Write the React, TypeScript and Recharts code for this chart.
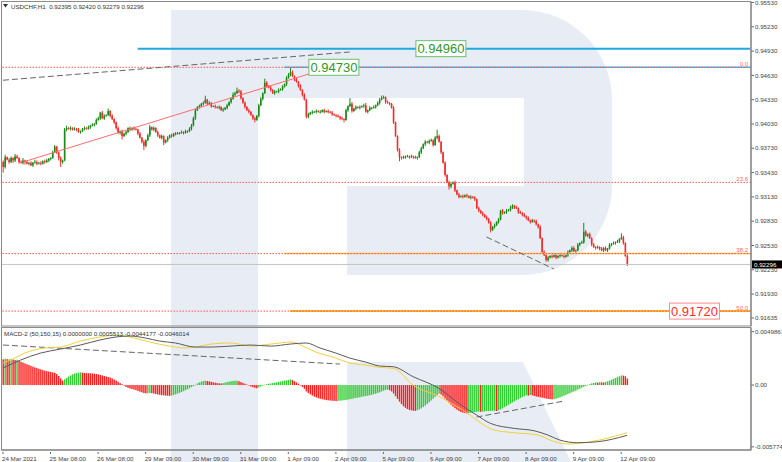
import React from "react";
import {
  Bar,
  ComposedChart,
  Line,
  ReferenceDot,
  ReferenceLine,
  XAxis,
  YAxis,
} from "recharts";

const FONT = "'Liberation Sans', Arial, sans-serif";
const PIP = 0.0001;
const SLOTS = 378;
const BULL = "#178a17";
const BEAR = "#f22b2b";

// hourly closes, USDCHF H1
const firstOpen = 0.9356;
const closes = [
  0.935, 0.9362, 0.9359, 0.9356, 0.9361, 0.9358, 0.9363, 0.9361, 0.9356, 0.9355, 0.9358, 0.9356, 0.9354, 0.9355, 0.9352, 0.9355, 0.9356, 0.9354, 0.9355, 0.9354, 0.9357, 0.9356, 0.9358, 0.936,
  0.9361, 0.9368, 0.9375, 0.9368, 0.9361, 0.9356, 0.9358, 0.9396, 0.9398, 0.9397, 0.9398, 0.9396, 0.9397, 0.9396, 0.9393, 0.9394, 0.9397, 0.9398, 0.9397, 0.9399, 0.9401, 0.9402, 0.9403, 0.9408,
  0.941, 0.9417, 0.941, 0.9413, 0.9414, 0.9419, 0.9413, 0.9409, 0.9405, 0.9398, 0.9392, 0.9394, 0.9388, 0.9391, 0.9393, 0.9398, 0.9396, 0.9398, 0.9397, 0.9396, 0.9391, 0.9386, 0.9381, 0.9376,
  0.9383, 0.9389, 0.9399, 0.9396, 0.9398, 0.9393, 0.9389, 0.9386, 0.9388, 0.938, 0.9383, 0.9386, 0.9389, 0.9388, 0.9391, 0.9391, 0.9392, 0.9392, 0.9393, 0.9392, 0.9394, 0.9394, 0.9397, 0.9401,
  0.941, 0.942, 0.9424, 0.9425, 0.9428, 0.9429, 0.9433, 0.9428, 0.9429, 0.9425, 0.9425, 0.9424, 0.9423, 0.9424, 0.942, 0.9421, 0.9423, 0.9426, 0.943, 0.9434, 0.9439, 0.9441, 0.9444, 0.9443,
  0.9435, 0.9429, 0.9424, 0.942, 0.9418, 0.9414, 0.941, 0.9408, 0.9413, 0.9426, 0.9434, 0.9441, 0.9454, 0.945, 0.9448, 0.9445, 0.9441, 0.9443, 0.9443, 0.9445, 0.9446, 0.9449, 0.9452, 0.946,
  0.9464, 0.9467, 0.9462, 0.9458, 0.9455, 0.945, 0.9445, 0.9439, 0.9433, 0.9412, 0.9415, 0.9417, 0.9418, 0.9418, 0.9419, 0.9418, 0.9418, 0.942, 0.9418, 0.9419, 0.9418, 0.9417, 0.9415, 0.9414,
  0.9413, 0.9412, 0.941, 0.9409, 0.9408, 0.942, 0.9425, 0.9428, 0.9419, 0.9422, 0.9424, 0.9423, 0.9424, 0.9425, 0.9426, 0.9418, 0.942, 0.9423, 0.9423, 0.9424, 0.9426, 0.9429, 0.9433, 0.9435,
  0.9436, 0.943, 0.9429, 0.9428, 0.9423, 0.9405, 0.9388, 0.9371, 0.9362, 0.9361, 0.9362, 0.9363, 0.9363, 0.9362, 0.9363, 0.9362, 0.9361, 0.9362, 0.9368, 0.9373, 0.9378, 0.9381, 0.938, 0.9382,
  0.9383, 0.9377, 0.9386, 0.9388, 0.9381, 0.9368, 0.9355, 0.934, 0.9331, 0.9326, 0.9329, 0.9331, 0.9321, 0.9316, 0.9313, 0.9314, 0.9313, 0.9315, 0.9314, 0.9312, 0.9313, 0.9312, 0.931, 0.9299,
  0.9296, 0.9293, 0.9291, 0.9288, 0.9286, 0.9281, 0.9272, 0.9276, 0.9278, 0.9282, 0.9285, 0.9296, 0.9293, 0.9294, 0.9296, 0.9297, 0.9299, 0.9302, 0.93, 0.9299, 0.9294, 0.9293, 0.9291, 0.9289,
  0.9287, 0.9284, 0.9282, 0.9284, 0.9283, 0.9279, 0.9276, 0.9262, 0.9245, 0.9241, 0.9235, 0.9238, 0.924, 0.9239, 0.9241, 0.9238, 0.924, 0.9241, 0.924, 0.9239, 0.9241, 0.9245, 0.9247, 0.925,
  0.9246, 0.9247, 0.9254, 0.9256, 0.9257, 0.927, 0.9265, 0.9267, 0.9262, 0.9254, 0.9251, 0.925, 0.9251, 0.9249, 0.9247, 0.925, 0.9247, 0.9249, 0.9254, 0.9255, 0.9256, 0.9257, 0.9258, 0.9261, 0.9263, 0.9256, 0.924, 0.92296,
];

// wick lengths in pips above / below the body
const wickUp = [
  2, 3, 1, 2, 2, 1, 3, 2, 1, 2, 3, 1, 2, 1, 2, 1, 3, 2, 1, 2, 1, 2, 2, 1,
  1, 2, 2, 1, 1, 2, 1, 2, 3, 1, 2, 1, 2, 1, 2, 1, 1, 2, 1, 2, 1, 2, 1, 2,
  2, 1, 2, 2, 1, 3, 1, 2, 1, 1, 2, 1, 2, 1, 2, 1, 2, 1, 2, 1, 1, 2, 1, 2,
  1, 2, 3, 1, 2, 1, 2, 1, 2, 1, 1, 2, 1, 2, 1, 2, 1, 1, 2, 1, 2, 1, 2, 2,
  2, 2, 1, 2, 1, 2, 5, 1, 2, 1, 1, 2, 1, 2, 1, 2, 1, 2, 1, 2, 3, 2, 4, 2,
  2, 1, 2, 1, 2, 1, 1, 2, 1, 2, 2, 1, 5, 2, 1, 2, 1, 2, 1, 2, 1, 2, 1, 2,
  2, 6, 2, 1, 2, 1, 2, 1, 2, 1, 2, 1, 2, 1, 2, 1, 2, 1, 2, 1, 2, 1, 2, 1,
  1, 2, 1, 2, 1, 2, 1, 7, 2, 1, 2, 1, 2, 1, 2, 3, 1, 2, 1, 2, 1, 2, 2, 3,
  2, 1, 2, 1, 1, 2, 1, 1, 2, 1, 2, 1, 2, 1, 2, 1, 2, 1, 2, 2, 1, 2, 1, 2,
  2, 1, 2, 8, 2, 1, 1, 2, 1, 2, 2, 1, 2, 1, 2, 1, 2, 1, 2, 1, 2, 1, 2, 1,
  2, 1, 2, 1, 2, 1, 2, 1, 2, 1, 2, 1, 2, 1, 2, 1, 3, 2, 1, 2, 1, 2, 1, 2,
  1, 2, 1, 2, 1, 2, 1, 2, 1, 2, 1, 2, 1, 2, 1, 2, 1, 2, 1, 2, 1, 2, 1, 2,
  2, 1, 2, 1, 2, 11, 2, 1, 2, 1, 2, 1, 2, 1, 2, 1, 2, 1, 2, 1, 2, 1, 2, 1, 5, 2, 1, 2,
];
const wickDown = [
  7, 2, 1, 2, 1, 3, 2, 1, 2, 1, 2, 3, 1, 2, 1, 2, 1, 2, 1, 2, 1, 2, 1, 2,
  2, 1, 1, 2, 3, 6, 2, 1, 2, 1, 2, 1, 1, 2, 1, 2, 1, 2, 1, 1, 2, 1, 2, 1,
  1, 2, 1, 2, 1, 1, 2, 1, 2, 2, 1, 2, 4, 1, 2, 1, 2, 1, 2, 1, 2, 1, 2, 5,
  2, 1, 2, 1, 2, 1, 2, 1, 2, 3, 1, 2, 1, 2, 1, 2, 1, 2, 1, 2, 1, 2, 1, 2,
  1, 2, 1, 2, 1, 2, 1, 2, 1, 2, 1, 2, 1, 2, 1, 2, 1, 2, 1, 2, 1, 2, 1, 2,
  2, 1, 2, 1, 2, 1, 2, 3, 1, 2, 1, 2, 1, 2, 1, 2, 1, 2, 1, 2, 1, 2, 1, 2,
  1, 2, 1, 2, 1, 2, 1, 2, 1, 2, 2, 1, 2, 1, 2, 1, 2, 1, 2, 1, 2, 1, 2, 1,
  2, 1, 2, 1, 3, 1, 2, 1, 2, 1, 2, 1, 2, 1, 2, 1, 2, 1, 2, 1, 2, 1, 2, 1,
  1, 2, 1, 2, 1, 2, 1, 2, 5, 2, 1, 2, 1, 2, 1, 2, 1, 2, 1, 2, 1, 2, 1, 2,
  1, 2, 1, 2, 1, 2, 1, 2, 1, 4, 2, 1, 2, 1, 2, 1, 2, 1, 2, 1, 2, 1, 2, 1,
  2, 1, 2, 1, 2, 1, 3, 1, 2, 1, 2, 1, 2, 1, 2, 1, 2, 1, 2, 1, 2, 1, 2, 1,
  2, 1, 2, 1, 2, 1, 2, 1, 2, 1, 2, 2, 1, 2, 1, 2, 1, 2, 1, 2, 1, 2, 1, 2,
  1, 2, 1, 2, 1, 2, 1, 2, 1, 2, 1, 2, 1, 2, 1, 2, 1, 2, 1, 2, 1, 2, 1, 2, 1, 2, 1, 2,
];

// MACD-2 histogram, in units of 0.0001
const histogram = [
  24, 24.6, 24.2, 23.8, 24.3, 23.9, 23.4, 23.6, 22.5, 21.8, 21, 20.2, 19.4, 18.8, 18, 17.2, 16.5, 15.9, 15.2, 14.6, 14, 13.5, 13, 12.6,
  12.2, 11.8, 11.5, 10.2, 8.4, 6.2, 4.2, 5.3, 6.6, 8, 9, 10, 10.8, 11.3, 11.6, 11.8, 11.5, 11.3, 11.1, 11.0, 10.9, 10.8, 10.6, 10.3,
  10, 9.5, 9, 8.5, 8, 7.5, 7, 6.2, 5.2, 4.2, 3, 1.8, 0.8, -0.5, -1.8, -2.6, -3.2, -3.7, -4.2, -4.8, -5.5, -6.2, -6.8, -7.5,
  -7.8, -7.7, -7.4, -7.6, -8, -8.4, -8.8, -9.1, -9.4, -9.7, -9.9, -10, -10.1, -9.8, -9.3, -8.7, -8, -7.3, -6.5, -5.7, -4.8, -3.9, -3, -2,
  -1, 0.2, 1.5, 2.5, 3.2, 3.7, 4, 3.8, 3.4, 3, 2.6, 2.2, 1.9, 1.6, 1.5, 1.8, 2.3, 2.8, 3.2, 3.5, 3.8, 4, 4.1, 3.6,
  2.8, 2, 1.2, 0.4, -0.5, -1.3, -2, -2.6, -3, -2.2, -1.4, -0.6, 0.3, 0.8, 1.2, 1.5, 1.8, 2.1, 2.5, 2.9, 3.3, 3.7, 4.1, 4.5,
  4.8, 5.2, 4.6, 3.6, 2.5, 1.2, -0.3, -1.8, -3.5, -6, -7.5, -8.7, -9.8, -10.8, -11.6, -12.3, -12.8, -13.3, -13.7, -14, -14.3, -14.5, -14.7, -14.8,
  -15, -14.8, -14.6, -14.4, -14.2, -13.9, -13.6, -13.2, -12.9, -12.5, -12.1, -11.8, -11.4, -11, -10.6, -10.3, -9.9, -9.5, -9.1, -8.6, -8.1, -7.5, -6.8, -6,
  -5.2, -4.6, -4.2, -4.8, -6, -8, -10.5, -13, -15.5, -17.8, -19.8, -21.3, -22.4, -23.2, -23.7, -24, -24.1, -23.6, -22.8, -21.8, -20.6, -19.3, -17.8, -16.2,
  -14.5, -12.8, -11, -9.3, -8, -8.8, -10.5, -12.5, -14.5, -16.5, -18.3, -20, -21.6, -23, -24.2, -25.2, -25.8, -26.2, -26.4, -26.1, -25.8, -25.5, -25.3, -25.1,
  -24.9, -25.1, -24.8, -24.6, -24.4, -24.3, -24.2, -24.1, -24, -24.3, -23.6, -22.8, -21.8, -20.7, -19.6, -18.5, -17.4, -16.3, -15.2, -14.2, -13.2, -12.2, -11.3, -10.4,
  -9.6, -9.8, -9.3, -9.6, -10.2, -10.7, -11.1, -11.5, -11.9, -12.3, -12.7, -13, -13.2, -13.4, -13.2, -12.8, -12.2, -11.5, -10.8, -10, -9.2, -8.4, -7.6, -6.8,
  -6, -5.2, -4.3, -3.4, -2.5, -1.6, -0.8, 0, 0.8, 1.5, 2, 2.4, 2.3, 2.7, 2.5, 2.4, 2.9, 3.5, 4.2, 5, 5.8, 6.6, 7.4, 8.2, 9, 8.8, 8.2, 6,
];

// MACD lines (0.0001 units), read at the listed bars
const macdBars = [0, 9, 19, 29, 39, 49, 57, 64, 72, 79, 87, 97, 105, 115, 125, 135, 145, 153, 160, 168, 175, 183, 190, 197, 207, 220, 230, 239, 246, 258, 268, 275, 281, 290, 300, 315];
const macdValues = [15.9, 23.4, 29.9, 33.6, 37.4, 42.1, 44.9, 45.8, 43.9, 41.1, 39.3, 35.5, 35.5, 36.4, 37.4, 36.4, 38.3, 39.3, 34.6, 29.9, 25.2, 21.5, 17.8, 17.1, 7.8, -3.1, -17.1, -28, -35.8, -40.5, -42.7, -46.7, -51.4, -53.9, -53, -47];
const signalBars = [0, 4, 11, 21, 29, 39, 49, 57, 64, 74, 84, 92, 97, 105, 115, 125, 135, 146, 150, 158, 168, 175, 183, 190, 197, 207, 221, 232, 248, 258, 270, 276, 285, 291, 301, 315];
const signalValues = [20.6, 23.4, 29.9, 34.6, 35.5, 41.1, 44.9, 46.7, 44.9, 40.2, 36.4, 34.6, 35.5, 38.3, 39.3, 36.4, 38.3, 40.2, 37.4, 30.8, 25.2, 20.6, 18.7, 16.5, 15.6, 0, -11.5, -23.4, -42.1, -44.6, -46.7, -51.4, -55.1, -54.5, -51.4, -44.5];

const dayTicks = [0, 24, 48, 72, 96, 120, 144, 168, 192, 216, 240, 264, 288, 312];
const dayLabels = [
  "24 Mar 2021", "25 Mar 08:00", "26 Mar 08:00", "29 Mar 09:00", "30 Mar 09:00", "31 Mar 09:00", "1 Apr 09:00",
  "2 Apr 09:00", "5 Apr 09:00", "6 Apr 09:00", "7 Apr 09:00", "8 Apr 09:00", "9 Apr 09:00", "12 Apr 09:00",
];
const priceTicks = [0.9553, 0.9523, 0.9493, 0.9463, 0.9433, 0.9403, 0.9373, 0.9343, 0.9313, 0.9283, 0.9253, 0.9223, 0.9193, 0.91635];
const macdTicks = [0.0049861, 0, -0.005774];
const macdTickLabels = ["0.0049861", "0.00", "-0.005774"];

const lastPrice = 0.92296;
const resistance = 0.9496;
const swingHigh = 0.9473;
const target = 0.9172;
const fibNames = ["0.0", "23.6", "38.2", "50.0"];
const fibPrices = [0.9473, 0.93309, 0.9243, 0.9172];

const rows = Array.from({ length: SLOTS }, (_, i) => {
  const row: any = { i };
  if (i < closes.length) {
    const o = i === 0 ? firstOpen : closes[i - 1];
    const c = closes[i];
    row.o = o;
    row.c = c;
    row.h = Math.max(o, c) + (wickUp[i] ?? 1) * PIP;
    row.l = Math.min(o, c) - (wickDown[i] ?? 1) * PIP;
    row.range = [row.l, row.h];
    row.hist = (histogram[i] ?? 0) * PIP;
    row.histUp = i > 0 && histogram[i] > histogram[i - 1];
  }
  return row;
});
macdBars.forEach((b, k) => (rows[b].macd = macdValues[k] * PIP));
signalBars.forEach((b, k) => (rows[b].signal = signalValues[k] * PIP));

const Candle = (props: any) => {
  const { x, y, width, height, payload } = props;
  if (!payload || payload.c === undefined) return null;
  const top = Math.min(y, y + height);
  const span = Math.abs(height);
  const yOf = (p: number) => top + ((payload.h - p) / (payload.h - payload.l)) * span;
  const cx = x + width / 2;
  const color = payload.c >= payload.o ? BULL : BEAR;
  const bTop = yOf(Math.max(payload.o, payload.c));
  const bBot = yOf(Math.min(payload.o, payload.c));
  return (
    <g>
      <line x1={cx} x2={cx} y1={top} y2={top + span} stroke={color} strokeWidth={1} />
      <rect x={cx - 0.8} y={bTop} width={1.6} height={Math.max(bBot - bTop, 0.8)} fill={color} />
    </g>
  );
};

const HistBar = (props: any) => {
  const { x, y, width, height, payload } = props;
  if (!payload || payload.hist === undefined) return null;
  const top = Math.min(y, y + height);
  return (
    <rect
      x={x + width / 2 - 0.7}
      y={top}
      width={1.4}
      height={Math.max(Math.abs(height), 0.5)}
      fill={payload.histUp ? "#33cc33" : "#ff1c1c"}
    />
  );
};

const PriceTick = ({ x, y, payload }: any) => (
  <text x={x + 1} y={y} dy="0.35em" fontSize={6.2} fontFamily={FONT} fill="#444">
    {payload.value.toFixed(5)}
  </text>
);

const MacdTick = ({ x, y, payload }: any) => (
  <text x={x + 1} y={y} dy="0.35em" fontSize={6.2} fontFamily={FONT} fill="#444">
    {macdTickLabels[macdTicks.indexOf(payload.value)]}
  </text>
);

const DayTick = ({ x, y, payload }: any) => (
  <g>
    <line x1={x} x2={x} y1={y} y2={y + 2} stroke="#666" />
    <text x={x - 1} y={y + 8.5} fontSize={6.2} fontFamily={FONT} fill="#444">
      {dayLabels[dayTicks.indexOf(payload.value)]}
    </text>
  </g>
);

const tag = (text: string, color: string, border: string) => (p: any) => (
  <g>
    <rect x={p.cx - 25} y={p.cy - 8} width={50} height={16} fill="#fff" stroke={border} strokeWidth={1} />
    <text x={p.cx} y={p.cy} dy="0.36em" textAnchor="middle" fontSize={13} fontFamily={FONT} fill={color}>
      {text}
    </text>
  </g>
);

const fibText = (text: string) => (p: any) => (
  <text x={p.cx - 2} y={p.cy - 1.5} textAnchor="end" fontSize={6} fontFamily={FONT} fill="#ff6a6a">
    {text}
  </text>
);

const lastTag = (p: any) => (
  <g>
    <rect x={p.cx + 2} y={p.cy - 4} width={30} height={8} fill="#000" />
    <text x={p.cx + 4} y={p.cy} dy="0.35em" fontSize={6.2} fontFamily={FONT} fill="#fff">
      {lastPrice.toFixed(5)}
    </text>
  </g>
);

export default function App() {
  const last = SLOTS - 1;
  return (
    <div style={{ position: "absolute", left: 0, top: 0, width: 782, height: 462, background: "#fff", overflow: "hidden" }}>
      <svg width={782} height={462} style={{ position: "absolute", left: 0, top: 0 }}>
        <path
          d="M171 10 H522 A90 90 0 0 1 612 100 V185 A90 90 0 0 1 522 275 H347 V186 H524 V98 H258 V462 H171 Z"
          fill="#e8edf5"
        />
        <path d="M347 362 H523 L571 462 H347 Z" fill="#e8edf5" />
      </svg>

      <div style={{ position: "absolute", left: 0, top: 0 }}>
        <ComposedChart width={782} height={326} data={rows} margin={{ top: 2, right: 0, left: 2, bottom: 0 }}>
          <XAxis dataKey="i" hide />
          <YAxis
            orientation="right"
            width={31}
            type="number"
            domain={[0.91536, 0.95536]}
            allowDataOverflow
            ticks={priceTicks}
            interval={0}
            tick={<PriceTick />}
            tickSize={3}
            tickMargin={0}
            axisLine={{ stroke: "#666" }}
            tickLine={{ stroke: "#666" }}
          />
          <ReferenceLine y={lastPrice} stroke="#c4c4c4" />
          <ReferenceLine segment={[{ x: 142, y: fibPrices[2] }, { x: last, y: fibPrices[2] }]} stroke="#ffc24d" strokeWidth={1.5} />
          <ReferenceLine segment={[{ x: 145, y: target }, { x: last, y: target }]} stroke="#ffb52e" strokeWidth={2} />
          <ReferenceLine segment={[{ x: 68, y: resistance }, { x: last, y: resistance }]} stroke="#1ea9e1" strokeWidth={2} />
          <ReferenceLine segment={[{ x: 142, y: swingHigh }, { x: last, y: swingHigh }]} stroke="#49b3e3" strokeWidth={1.5} />
          {fibPrices.map((p) => (
            <ReferenceLine key={p} y={p} stroke="#ff5252" strokeDasharray="1.5 1.5" />
          ))}
          <ReferenceLine segment={[{ x: 0, y: 0.9457 }, { x: 175, y: 0.94919 }]} stroke="#666" strokeDasharray="6 3" />
          <ReferenceLine segment={[{ x: 10, y: 0.9356 }, { x: 156, y: 0.9466 }]} stroke="#ff6b6b" />
          <ReferenceLine segment={[{ x: 244, y: 0.92635 }, { x: 278, y: 0.9224 }]} stroke="#666" strokeDasharray="6 3" />
          <Bar dataKey="range" shape={<Candle />} isAnimationActive={false} />
          {fibPrices.map((p, k) => (
            <ReferenceDot key={"f" + k} x={last} y={p} r={0} shape={fibText(fibNames[k])} />
          ))}
          <ReferenceDot x={221} y={resistance} r={0} shape={tag("0.94960", "#2f962f", "#6cbf6c")} />
          <ReferenceDot x={167} y={swingHigh} r={0} shape={tag("0.94730", "#2f962f", "#6cbf6c")} />
          <ReferenceDot x={349} y={target} r={0} shape={tag("0.91720", "#ff2d2d", "#ff8a8a")} />
          <ReferenceDot x={last} y={lastPrice} r={0} shape={lastTag} />
        </ComposedChart>
      </div>

      <div style={{ position: "absolute", left: 0, top: 326 }}>
        <ComposedChart width={782} height={136} data={rows} margin={{ top: 2, right: 0, left: 2, bottom: 0 }}>
          <XAxis
            dataKey="i"
            height={12}
            ticks={dayTicks}
            interval={0}
            tick={<DayTick />}
            tickLine={false}
            tickSize={0}
            axisLine={{ stroke: "#666" }}
          />
          <YAxis
            orientation="right"
            width={31}
            type="number"
            domain={[-0.00607, 0.00533]}
            allowDataOverflow
            ticks={macdTicks}
            interval={0}
            tick={<MacdTick />}
            tickSize={3}
            tickMargin={0}
            axisLine={{ stroke: "#666" }}
            tickLine={{ stroke: "#666" }}
          />
          <Bar dataKey="hist" shape={<HistBar />} isAnimationActive={false} />
          <ReferenceLine segment={[{ x: 0, y: 0.00374 }, { x: 170, y: 0.00196 }]} stroke="#666" strokeDasharray="6 3" />
          <ReferenceLine segment={[{ x: 239, y: -0.00299 }, { x: 283, y: -0.0015 }]} stroke="#666" strokeDasharray="6 3" />
          <Line dataKey="signal" type="monotone" stroke="#f2cf3a" strokeWidth={1} dot={false} connectNulls isAnimationActive={false} />
          <Line dataKey="macd" type="monotone" stroke="#5a5a5a" strokeWidth={1} dot={false} connectNulls isAnimationActive={false} />
        </ComposedChart>
      </div>

      <svg width={782} height={462} style={{ position: "absolute", left: 0, top: 0, pointerEvents: "none" }}>
        <rect x={1.5} y={1.5} width={749.5} height={324.5} fill="none" stroke="#8a8a8a" />
        <rect x={1.5} y={327.5} width={749.5} height={122.5} fill="none" stroke="#8a8a8a" />
        <polygon points="3,4 8,4 5.5,7.5" fill="#333" />
        <text x={11} y={8.5} fontSize={6.2} fontFamily={FONT} fill="#333" style={{ whiteSpace: "pre" }}>
          {"USDCHF,H1  0.92395 0.92420 0.92279 0.92296"}
        </text>
        <text x={4} y={335.5} fontSize={6.2} fontFamily={FONT} fill="#333" style={{ whiteSpace: "pre" }}>
          {"MACD-2 (50,150,15) 0.0000000 0.0005513 -0.0044177 -0.0046014"}
        </text>
      </svg>
    </div>
  );
}
